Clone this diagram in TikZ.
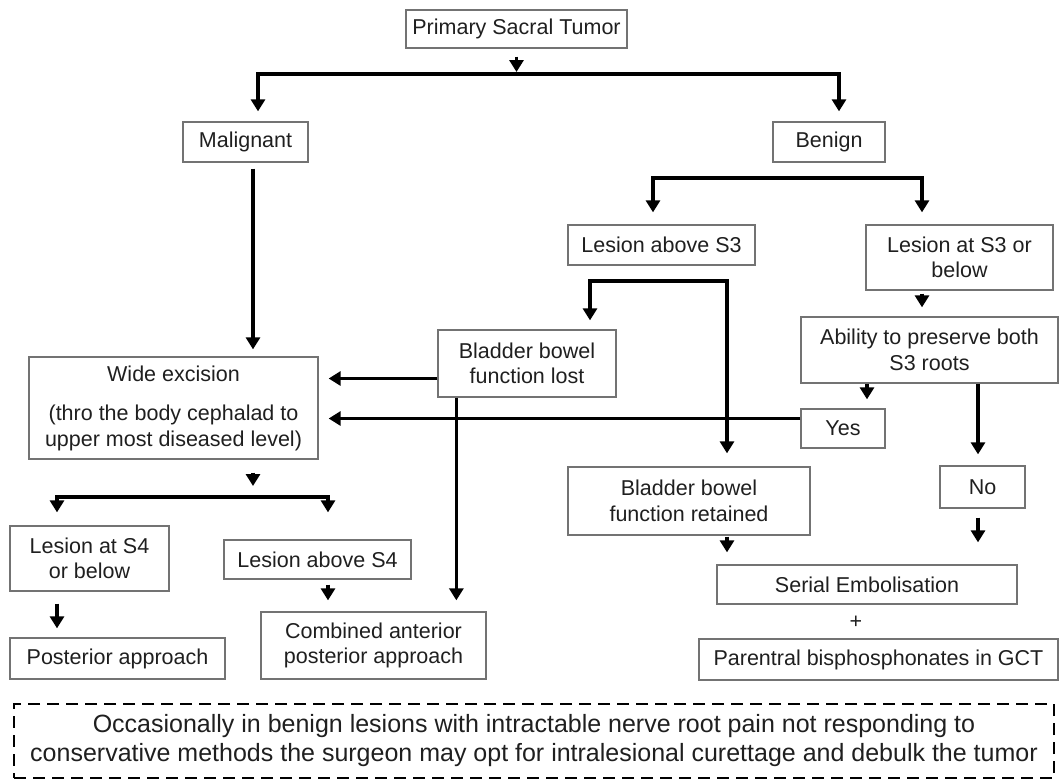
\documentclass[tikz,border=0pt]{standalone}
\usepackage{fontspec}
\setmainfont{Liberation Sans}
\usetikzlibrary{arrows.meta,positioning,calc}

\begin{document}
\begin{tikzpicture}[
  x=1pt, y=-1pt,
  font=\fontsize{21.5}{25.5}\selectfont, text=black!88,
  box/.style={draw=black!55, line width=1.3pt, align=center, inner sep=0pt},
  note/.style={draw, dash pattern=on 12pt off 7pt, line width=1.4pt, align=center, inner sep=0pt, font=\fontsize{25}{29}\selectfont},
  arr/.style={-{Triangle[length=12pt,width=14pt]}, line width=3.6pt},
  split/.style={{Triangle[length=12pt,width=14pt]}-{Triangle[length=12pt,width=14pt]}, line width=3.6pt}]
  \useasboundingbox (0,0) rectangle (1062,780);
  % top: tumour type
  \node[box, minimum width=221pt, minimum height=38pt] (tumor) at (516.5,29) {Primary Sacral Tumor};
  \node[box, minimum width=125pt, minimum height=40pt] (malig) at (245.5,142) {Malignant};
  \node[box, minimum width=112pt, minimum height=40pt] (benign) at (829,142) {Benign};
  % malignant side
  \node[box, minimum width=289pt, minimum height=102pt] (wide) at (173.5,408) {Wide excision\\[14pt](thro the body cephalad to\\upper most diseased level)};
  \node[box, minimum width=159pt, minimum height=65pt] (lesat4) at (89.5,558.5) {Lesion at S4\\or below};
  \node[box, minimum width=187pt, minimum height=39pt] (lesab4) at (317.5,559.5) {Lesion above S4};
  \node[box, minimum width=215pt, minimum height=41pt] (post) at (117.5,658.5) {Posterior approach};
  \node[box, minimum width=225pt, minimum height=67pt] (comb) at (373.5,645.5) {Combined anterior\\posterior approach};
  % benign side
  \node[box, minimum width=187pt, minimum height=40pt] (lesab3) at (661.5,245) {Lesion above S3};
  \node[box, minimum width=187pt, minimum height=65pt] (lesat3) at (959.5,257.5) {Lesion at S3 or\\below};
  \node[box, minimum width=178pt, minimum height=67pt] (blost) at (527,363.5) {Bladder bowel\\function lost};
  \node[box, minimum width=257pt, minimum height=66pt] (ability) at (929.5,350) {Ability to preserve both\\S3 roots};
  \node[box, minimum width=84pt, minimum height=39pt] (yes) at (843,428.5) {Yes};
  \node[box, minimum width=242pt, minimum height=68pt] (bret) at (689,501) {Bladder bowel\\function retained};
  \node[box, minimum width=85pt, minimum height=42pt] (no) at (982.5,487) {No};
  \node[box, minimum width=300pt, minimum height=39pt] (serial) at (867,584.5) {Serial Embolisation};
  \node[inner sep=0pt] (plus) at (856,622) {+};
  \node[box, minimum width=359pt, minimum height=41pt] (paren) at (878.5,659.5) {Parentral bisphosphonates in GCT};
  % footnote
  \node[note, minimum width=1040pt, minimum height=74pt] (occ) at (534,741) {Occasionally in benign lesions with intractable nerve root pain not responding to\\conservative methods the surgeon may opt for intralesional curettage and debulk the tumor};
  % junctions
  \coordinate (topsplit) at (516.5,74);
  \coordinate (topL) at (258,74);
  \coordinate (topR) at (839,74);
  \coordinate (bL) at (653,178);
  \coordinate (bR) at (922,178);
  \coordinate (elL) at (590,281);
  \coordinate (elR) at (727,281);
  \coordinate (wsplit) at (253,497);
  \coordinate (wL) at (57,497);
  \coordinate (wR) at (328,497);
  % connectors
  \draw[arr, shorten <=8pt, shorten >=2pt] (tumor) -- (topsplit);
  \draw[split, shorten <=10pt, shorten >=10pt] (topL |- malig.north) |- (topsplit) -| (topR |- benign.north);
  \draw[arr, shorten <=6pt, shorten >=7pt] ([xshift=7.5pt]malig.south) -- ([xshift=7.5pt]malig.south |- wide.north);
  \draw[split, shorten <=12pt, shorten >=12pt] (bL |- lesab3.north) -- (bL) -- (bR) -- (bR |- lesat3.north);
  \draw[arr, shorten <=3pt, shorten >=9pt] (bR |- lesat3.south) -- (bR |- ability.north);
  \draw[split, shorten <=9pt, shorten >=13pt] (elL |- blost.north) -- (elL) -- (elR) -- (elR |- bret.north);
  \draw[arr, shorten >=10pt] ([yshift=-15pt]blost.west) -- ([yshift=-15pt]blost.west -| wide.east);
  \draw[arr, shorten >=11pt] ([xshift=19pt]blost.south west) -- ([xshift=19pt]blost.south west |- comb.north);
  \draw[arr, shorten >=9pt] ([xshift=24pt]yes.north |- ability.south) -- ([xshift=24pt]yes.north);
  \draw[arr, shorten >=10pt] ([yshift=10pt]yes.west) -- ([yshift=10pt]yes.west -| wide.east);
  \draw[arr, shorten >=11pt] ([xshift=-4.5pt]no.north |- ability.south) -- ([xshift=-4.5pt]no.north);
  \draw[arr, shorten <=9pt, shorten >=22pt] ([xshift=-4.5pt]no.south) -- ([xshift=-4.5pt]no.south |- serial.north);
  \draw[arr, shorten <=1pt, shorten >=12pt] (elR |- bret.south) -- (elR |- serial.north);
  \draw[arr, shorten <=13pt, shorten >=11pt] (wide.south -| wsplit) -- (wsplit);
  \draw[split, shorten <=13pt, shorten >=27pt] (wL |- lesat4.north) |- (wsplit) -| (wR |- lesab4.north);
  \draw[arr, shorten <=12pt, shorten >=9pt] (wL |- lesat4.south) -- (wL |- post.north);
  \draw[arr, shorten <=5pt, shorten >=11pt] (wR |- lesab4.south) -- (wR |- comb.north);
\end{tikzpicture}
\end{document}
